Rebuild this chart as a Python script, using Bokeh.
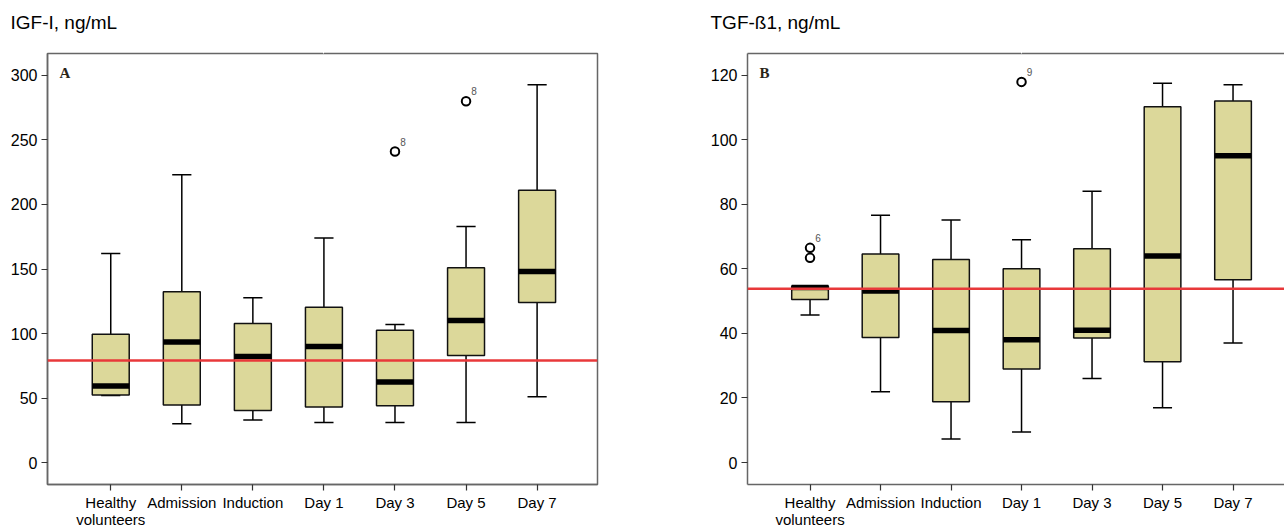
from bokeh.plotting import figure
from bokeh.models import FixedTicker, Span, Label, LinearAxis, Range1d
from bokeh.layouts import row
from bokeh.core.properties import value
from bokeh.embed import file_html
from bokeh.resources import INLINE

# ---- data ----
categories = ["Healthy\nvolunteers", "Admission", "Induction", "Day 1", "Day 3", "Day 5", "Day 7"]
positions = [1, 2, 3, 4, 5, 6, 7]

igf_low = [52, 30, 33, 31, 31, 31, 51]
igf_q1 = [52.4, 44.7, 40.3, 43, 44, 83, 124]
igf_med = [59.4, 93.5, 82.2, 90, 62.5, 110, 148]
igf_q3 = [99.5, 132.4, 107.7, 120.3, 102.5, 151, 211]
igf_high = [162, 223, 127.7, 174, 107, 183, 292.7]
igf_out_pos = [5, 6]
igf_out_val = [241, 280]
igf_out_lbl = ["8", "8"]
igf_healthy_ref = 79
igf_yticks = [0, 50, 100, 150, 200, 250, 300]

tgf_low = [45.7, 21.9, 7.3, 9.5, 26, 17, 37]
tgf_q1 = [50.5, 38.7, 18.8, 29, 38.6, 31.2, 56.6]
tgf_med = [54.2, 53.1, 40.9, 38, 41, 64, 95]
tgf_q3 = [54.7, 64.6, 62.9, 60, 66.2, 110.2, 112]
tgf_high = [54.7, 76.6, 75.1, 69, 84, 117.5, 117]
tgf_out_pos = [1, 1, 4]
tgf_out_val = [66.5, 63.4, 117.9]
tgf_out_lbl = ["6", "", "9"]
tgf_healthy_ref = 53.8
tgf_yticks = [0, 20, 40, 60, 80, 100, 120]

FONT = "Liberation Sans"
BOX_FILL = "#dcd89a"
FRAME = "#666666"


def panel(title, low, q1, med, q3, high, out_pos, out_val, out_lbl, ref, yticks,
          xr, yr, frame_w, border_left, border_right, letter, outline):
    p = figure(frame_width=frame_w, height=530, x_range=Range1d(*xr), y_range=Range1d(*yr),
               output_backend="svg", toolbar_location=None,
               min_border_left=border_left, min_border_right=border_right,
               min_border_top=53, min_border_bottom=0)
    p.title.text = title
    p.title.text_font = FONT
    p.title.text_font_size = "19px"
    p.title.text_font_style = "normal"
    p.title.text_color = "black"
    p.title.align = "left"
    p.title.offset = -37
    p.title.standoff = 4
    p.xgrid.visible = False
    p.ygrid.visible = False
    p.outline_line_color = FRAME if outline else None
    p.outline_line_width = 1.5
    p.background_fill_color = "white"
    p.border_fill_color = "white"

    for ax in (p.xaxis[0], p.yaxis[0]):
        ax.axis_line_color = FRAME
        ax.axis_line_width = 1.5
        ax.major_tick_line_color = "#333333"
        ax.major_tick_line_width = 1.2
        ax.major_tick_out = 6
        ax.major_tick_in = 0
        ax.minor_tick_line_color = None
        ax.major_label_text_font = FONT
        ax.major_label_text_color = "black"
    p.xaxis.ticker = FixedTicker(ticks=positions)
    p.xaxis.major_label_overrides = {pos: c for pos, c in zip(positions, categories)}
    p.xaxis.major_label_standoff = 3
    p.xaxis.major_label_text_font_size = "15px"
    p.xaxis.major_label_text_line_height = 1.0
    p.yaxis.ticker = FixedTicker(ticks=yticks)
    p.yaxis.major_label_standoff = 4
    p.yaxis.major_label_text_font_size = "16px"

    if not outline:
        # top frame line (no right border: the panel runs off the page)
        top = LinearAxis(ticker=FixedTicker(ticks=[]), axis_line_color=FRAME, axis_line_width=1.5,
                         major_tick_line_color=None, minor_tick_line_color=None,
                         major_label_text_font_size="0px")
        p.add_layout(top, "above")

    # invisible spacer between header text and frame
    spacer = LinearAxis(ticker=FixedTicker(ticks=[4]), axis_line_color=None,
                        major_tick_line_color="white", major_tick_out=19, major_tick_in=0,
                        minor_tick_line_color=None, major_label_standoff=0,
                        major_label_overrides={4: ""}, major_label_text_font_size="1px")
    p.add_layout(spacer, "above")

    bw = 0.52
    cw = 0.27
    # whiskers
    p.segment(x0=positions, y0=q3, x1=positions, y1=high, line_color="black", line_width=1.5)
    p.segment(x0=positions, y0=low, x1=positions, y1=q1, line_color="black", line_width=1.5)
    p.segment(x0=[x - cw / 2 for x in positions], y0=high, x1=[x + cw / 2 for x in positions], y1=high,
              line_color="black", line_width=1.5)
    p.segment(x0=[x - cw / 2 for x in positions], y0=low, x1=[x + cw / 2 for x in positions], y1=low,
              line_color="black", line_width=1.5)
    # boxes
    p.vbar(x=positions, bottom=q1, top=q3, width=bw, fill_color=BOX_FILL,
           line_color="#111111", line_width=1.5)
    # medians
    p.segment(x0=[x - bw / 2 for x in positions], y0=med, x1=[x + bw / 2 for x in positions], y1=med,
              line_color="black", line_width=5.5, line_cap="butt")
    # outliers
    p.scatter(x=out_pos, y=out_val, size=8.5, marker="circle", fill_color="white",
              line_color="black", line_width=2)
    p.text(x=out_pos, y=out_val, text=out_lbl, x_offset=8, y_offset=-10,
           text_font=value(FONT), text_font_size="10px", text_color="#555555",
           text_align="center", text_baseline="middle")
    # healthy reference line
    p.add_layout(Span(location=ref, dimension="width", line_color="#e8383a", line_width=2.5))
    # panel letter
    lx = xr[0] + 0.17
    ly = yr[1] - (yr[1] - yr[0]) * 0.026
    p.add_layout(Label(x=lx, y=ly, text=letter, text_font="Liberation Serif",
                       text_font_style="bold", text_font_size="15px", text_color="#2a2418",
                       text_baseline="top", text_align="left"))
    return p


pA = panel("IGF-I, ng/mL", igf_low, igf_q1, igf_med, igf_q3, igf_high,
           igf_out_pos, igf_out_val, igf_out_lbl, igf_healthy_ref, igf_yticks,
           (0.11, 7.85), (-17, 317), 550, 47, 43, "A", True)
pB = panel("TGF-\u00df1, ng/mL", tgf_low, tgf_q1, tgf_med, tgf_q3, tgf_high,
           tgf_out_pos, tgf_out_val, tgf_out_lbl, tgf_healthy_ref, tgf_yticks,
           (0.113, 7.73), (-6.8, 126.7), 537, 107, 0, "B", False)

layout = row(pA, pB)
open("out.html", "w").write(file_html(layout, INLINE))
